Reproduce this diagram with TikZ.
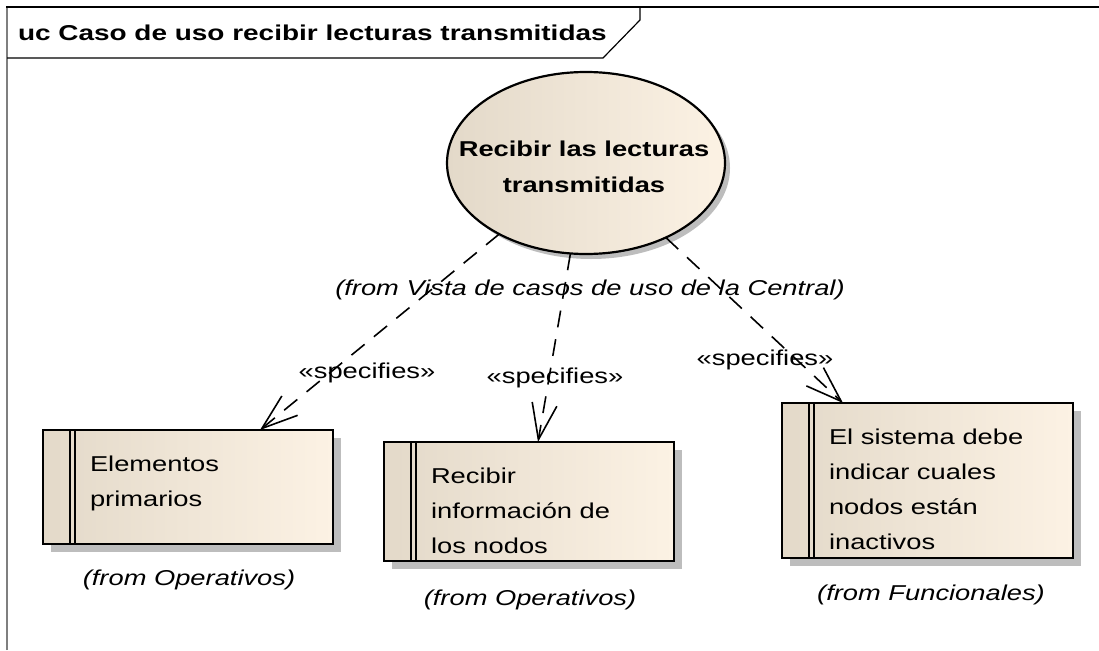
\documentclass[tikz,border=0pt]{standalone}
\usepackage{fontspec}
\setmainfont{Liberation Sans}[FakeStretch=1.27]
\usetikzlibrary{shapes.geometric,arrows.meta,shadows}
\definecolor{fillL}{HTML}{E3D9C9}
\definecolor{fillR}{HTML}{FCF2E4}
\definecolor{shad}{HTML}{BDBDBD}
\definecolor{frameGray}{HTML}{7F7F7F}
\begin{document}
\begin{tikzpicture}[x=1pt,y=-1pt,
  every node/.style={font=\fontsize{21.5}{35}\selectfont, inner sep=0pt, outer sep=0pt},
  reqbox/.style={rectangle, draw=black, line width=2.4pt, left color=fillL, right color=fillR,
     drop shadow={shadow xshift=8pt, shadow yshift=-8pt, fill=shad, opacity=1},
     anchor=north west},
  ucell/.style={ellipse, draw=black, line width=2.2pt, left color=fillL, right color=fillR,
     drop shadow={shadow xshift=5pt, shadow yshift=-5pt, fill=shad, opacity=1}},
  bar/.style={line width=2pt},
  reqtext/.style={anchor=north west, align=left},
  fromlbl/.style={font=\fontsize{21.5}{35}\selectfont\itshape},
  dep/.style={line width=1.6pt, dash pattern=on 17pt off 12pt,
     -{Straight Barb[length=36pt,width=25pt]}},
  stereo/.style={}]
\useasboundingbox (0,0) rectangle (1099,650);

% frame
\draw[line width=2pt, frameGray] (7,650) -- (7,7);
\draw[line width=1.6pt] (6,7) -- (1099,7);
\draw[line width=1.2pt] (7,58) -- (603,58) -- (640,20) -- (640,7);
\node[anchor=west, font=\fontsize{21.5}{26}\selectfont\bfseries\addfontfeature{FakeStretch=1.30}] (title) at (18,33) {uc Caso de uso recibir lecturas transmitidas};

% use case
\node[ucell, minimum width=278pt, minimum height=182pt] (e) at (586,163) {};
\node[align=center, font=\fontsize{21.5}{36}\selectfont\bfseries] (et) at (584,167) {Recibir las lecturas\\transmitidas};
\node[fromlbl] (efrom) at (590,290) {(from Vista de casos de uso de la Central)};

% requirement boxes
\node[reqbox, minimum width=290pt, minimum height=114pt] (b1) at (43,430) {};
\node[reqbox, minimum width=290pt, minimum height=119pt] (b2) at (384,442) {};
\node[reqbox, minimum width=291pt, minimum height=155pt] (b3) at (782,403) {};

\foreach \b in {b1,b2,b3}{
  \draw[bar] ([xshift=27pt]\b.north west) -- ([xshift=27pt]\b.south west);
  \draw[bar] ([xshift=32pt]\b.north west) -- ([xshift=32pt]\b.south west);
}

\node[reqtext] (b1t) at (90,456.3) {Elementos\\primarios};
\node[reqtext] (b2t) at (431,468.3) {Recibir\\información de\\los nodos};
\node[reqtext] (b3t) at (829,429.3) {El sistema debe\\indicar cuales\\nodos están\\inactivos};

\node[fromlbl] (b1f) at (189,580) {(from Operativos)};
\node[fromlbl] (b2f) at (530,600) {(from Operativos)};
\node[fromlbl] (b3f) at (931,595) {(from Funcionales)};

% dependencies
\coordinate (t1) at (260,430);
\coordinate (t2) at (538,442);
\coordinate (t3) at (843,403);
\draw[dep] (e) -- (t1);
\draw[dep] (e) -- (t2);
\draw[dep] (e) -- (t3);

\node[stereo] (s1) at (367,373) {«specifies»};
\node[stereo] (s2) at (555,378) {«specifies»};
\node[stereo] (s3) at (765,360) {«specifies»};
\end{tikzpicture}
\end{document}
